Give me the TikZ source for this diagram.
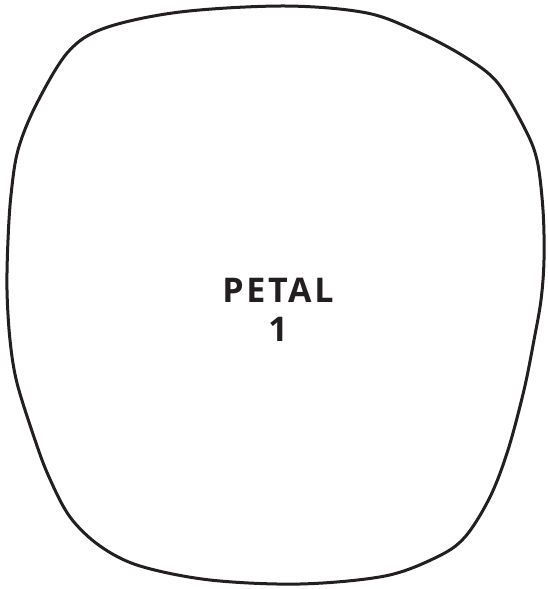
\documentclass[tikz,border=0pt]{standalone}
\usepackage{fontspec}
\setmainfont{Open Sans}
\newfontfamily\petalfont[LetterSpace=8]{Open Sans}
\tikzset{petaloutline/.style={line width=3pt, draw={rgb,255:red,35;green,31;blue,32}, line join=round},
  petallabel/.style={font=\petalfont\bfseries\fontsize{34}{39}\selectfont, text={rgb,255:red,35;green,31;blue,32}, align=center, inner sep=0pt}}
\begin{document}
\begin{tikzpicture}[x=1pt,y=-1pt]
\useasboundingbox (0,0) rectangle (547,589);
\draw[petaloutline] plot[smooth cycle, tension=0.55] coordinates {
(285,6) (367,13) (420,33) (465,57) (497,82) (524,127) (537,160) (543,210) (544,260) (541,300) (534,340) (524,390) (508,450) (490,497) (465,537) (437,557) (385,576) (300,584) (210,580) (140,566) (100,546) (70,517) (49,477) (35,440) (17,383) (10,340) (7,290) (8,240) (11,195) (18,150) (36,105) (68,52) (105,28) (180,12)};
\node[petallabel] (label) at (278,310) {PETAL\\1};
\end{tikzpicture}
\end{document}
